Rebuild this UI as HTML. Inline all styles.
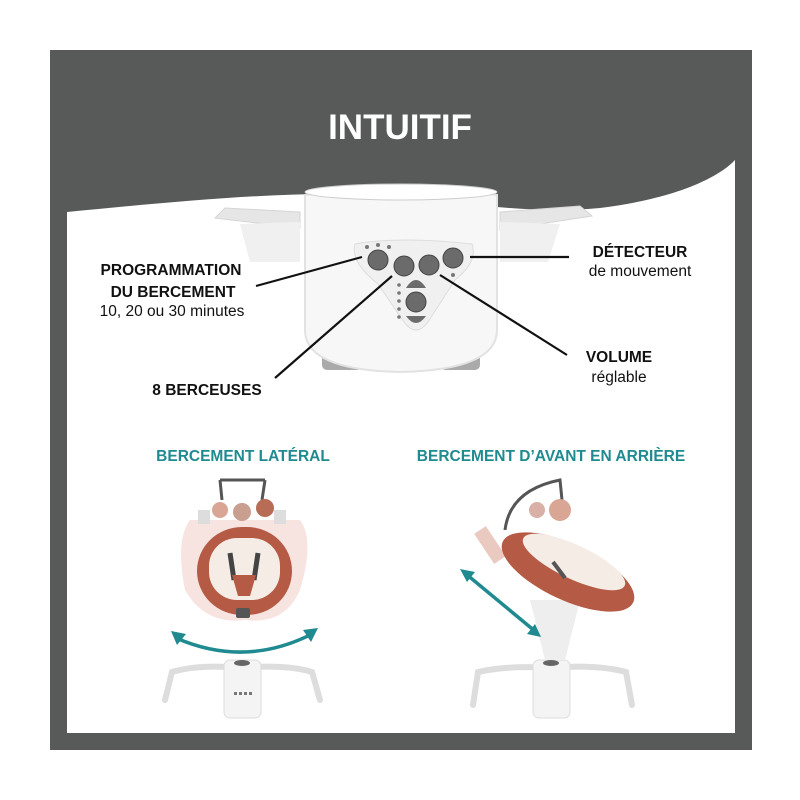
<!DOCTYPE html>
<html><head><meta charset="utf-8"><style>
html,body{margin:0;padding:0;background:#fff;}
svg{display:block}
.b{font-family:"Liberation Sans",sans-serif;font-weight:bold;}
.r{font-family:"Liberation Sans",sans-serif;}
</style></head><body>
<svg width="800" height="800" viewBox="0 0 800 800" xmlns="http://www.w3.org/2000/svg">
<rect x="0" y="0" width="800" height="800" fill="#fff"/>
<rect x="50" y="50" width="702" height="700" fill="#585a59"/>
<rect x="67" y="160" width="668" height="573" fill="#fff"/>
<path d="M67,160 L67,212 C150,204 250,194 330,194 C450,198 520,216 600,208 C680,198 720,176 735,160 Z" fill="#585a59"/>
<text x="400" y="139" text-anchor="middle" class="b" font-size="35" fill="#fff">INTUITIF</text>

<!-- product -->
<g>
<path d="M300,212 L225,208 L215,218 L300,228 Z" fill="#e6e6e6" stroke="#d5d5d5"/>
<path d="M500,212 L580,206 L592,216 L500,230 Z" fill="#e6e6e6" stroke="#d5d5d5"/>
<path d="M300,222 L240,224 L250,262 L300,262 Z" fill="#f0f0f0"/>
<path d="M500,222 L560,224 L548,262 L500,262 Z" fill="#f0f0f0"/>
<rect x="322" y="350" width="40" height="20" rx="5" fill="#aaa"/>
<rect x="440" y="350" width="40" height="20" rx="5" fill="#aaa"/>
<path d="M305,195 Q400,180 497,195 L497,330 Q497,370 400,372 Q305,370 305,330 Z" fill="#f7f7f7" stroke="#e2e2e2" stroke-width="2"/>
<ellipse cx="401" cy="192" rx="96" ry="8" fill="#fff" stroke="#ccc"/>
<path d="M355,244 Q400,236 472,244 Q478,262 455,280 L428,322 Q416,338 404,322 L378,284 Q350,262 355,244 Z" fill="#f0f0f0" stroke="#ddd"/>
<circle cx="367" cy="247" r="2" fill="#777"/><circle cx="378" cy="245" r="2" fill="#777"/><circle cx="389" cy="247" r="2" fill="#777"/>
<circle cx="378" cy="260" r="10" fill="#6b6b6b" stroke="#444"/>
<circle cx="404" cy="266" r="10" fill="#6b6b6b" stroke="#444"/>
<circle cx="429" cy="265" r="10" fill="#6b6b6b" stroke="#444"/>
<circle cx="453" cy="258" r="10" fill="#6b6b6b" stroke="#444"/>
<circle cx="453" cy="275" r="2" fill="#777"/>
<path d="M406,288 Q416,272 426,288 Z" fill="#6b6b6b"/>
<circle cx="416" cy="302" r="10" fill="#6b6b6b" stroke="#444"/>
<path d="M406,316 Q416,330 426,316 Z" fill="#6b6b6b"/>
<g fill="#777"><circle cx="399" cy="285" r="1.8"/><circle cx="399" cy="293" r="1.8"/><circle cx="399" cy="301" r="1.8"/><circle cx="399" cy="309" r="1.8"/><circle cx="399" cy="317" r="1.8"/></g>
</g>
<g stroke="#111" stroke-width="2.2">
<line x1="256" y1="286" x2="362" y2="257"/>
<line x1="275" y1="378" x2="392" y2="276"/>
<line x1="440" y1="275" x2="567" y2="355"/>
<line x1="470" y1="257" x2="569" y2="257"/>
</g>
<g fill="#111">
<text x="171" y="275" text-anchor="middle" class="b" font-size="15.5">PROGRAMMATION</text>
<text x="173" y="297" text-anchor="middle" class="b" font-size="15.5">DU BERCEMENT</text>
<text x="172" y="316" text-anchor="middle" class="r" font-size="15.5">10, 20 ou 30 minutes</text>
<text x="640" y="257" text-anchor="middle" class="b" font-size="15.5">DÉTECTEUR</text>
<text x="640" y="276" text-anchor="middle" class="r" font-size="15.5">de mouvement</text>
<text x="619" y="362" text-anchor="middle" class="b" font-size="15.5">VOLUME</text>
<text x="619" y="382" text-anchor="middle" class="r" font-size="15.5">réglable</text>
<text x="207" y="395" text-anchor="middle" class="b" font-size="15.5">8 BERCEUSES</text>
</g>
<g fill="#1f8a8f" font-size="15.5">
<text x="243" y="461" text-anchor="middle" class="b">BERCEMENT LATÉRAL</text>
<text x="551" y="461" text-anchor="middle" class="b">BERCEMENT D’AVANT EN ARRIÈRE</text>
</g>

<!-- left swing -->
<g>
<path d="M165,700 L172,672 Q200,664 240,668 Q285,664 312,672 L320,700" fill="none" stroke="#ddd" stroke-width="6" stroke-linecap="round"/>
<rect x="224" y="660" width="37" height="58" rx="6" fill="#f4f4f4" stroke="#ddd"/>
<ellipse cx="242" cy="663" rx="8" ry="3" fill="#666"/>
<g fill="#777"><rect x="234" y="692" width="3" height="3"/><rect x="239" y="692" width="3" height="3"/><rect x="244" y="692" width="3" height="3"/><rect x="249" y="692" width="3" height="3"/></g>
<path d="M190,520 Q175,540 185,590 Q205,625 245,620 Q285,625 300,590 Q315,540 300,520" fill="#f4d9d4" opacity="0.7"/>
<rect x="198" y="510" width="12" height="14" fill="#ddd"/><rect x="274" y="510" width="12" height="14" fill="#ddd"/>
<path d="M220,480 L222,500 M265,480 L262,500 M220,480 L265,480" stroke="#555" stroke-width="3" fill="none"/>
<circle cx="220" cy="510" r="8" fill="#d9a595"/><circle cx="242" cy="512" r="9" fill="#c9a090"/><circle cx="265" cy="508" r="9" fill="#b86b55"/>
<rect x="197" y="527" width="95" height="88" rx="45" fill="#b55a45"/>
<rect x="209" y="538" width="71" height="62" rx="28" fill="#f5ece6"/>
<path d="M230,553 L234,580 M258,553 L254,580" stroke="#444" stroke-width="5"/>
<path d="M232,575 L256,575 L250,596 L238,596 Z" fill="#b55a45"/>
<rect x="236" y="608" width="14" height="10" rx="2" fill="#555"/>
<path d="M176,638 Q245,668 312,634" fill="none" stroke="#1f8a8f" stroke-width="3.5"/>
<path d="M171,631 L186,634 L177,645 Z M318,628 L303,630 L311,642 Z" fill="#1f8a8f"/>
</g>

<!-- right swing -->
<g>
<path d="M473,705 L478,672 Q510,665 550,668 Q595,664 626,672 L632,705" fill="none" stroke="#ddd" stroke-width="6" stroke-linecap="round"/>
<rect x="533" y="660" width="37" height="58" rx="6" fill="#f4f4f4" stroke="#ddd"/>
<ellipse cx="551" cy="663" rx="8" ry="3" fill="#666"/>
<path d="M530,600 L545,660 L565,660 L580,600 Z" fill="#eeeeee"/>
<path d="M480,530 L500,560" stroke="#e9c9c0" stroke-width="14"/>
<path d="M505,530 Q510,490 560,480 L562,500" fill="none" stroke="#555" stroke-width="3"/>
<circle cx="537" cy="510" r="8" fill="#d9b0a5"/><circle cx="560" cy="510" r="11" fill="#d9a595"/>
<ellipse cx="568" cy="572" rx="72" ry="28" transform="rotate(25 568 572)" fill="#b55a45"/>
<ellipse cx="574" cy="562" rx="56" ry="17" transform="rotate(25 574 562)" fill="#f5ece6"/>
<path d="M553,562 L565,578" stroke="#555" stroke-width="4"/>
<line x1="466" y1="574" x2="536" y2="632" stroke="#1f8a8f" stroke-width="3.5"/>
<path d="M460,569 L475,572 L467,582 Z M541,637 L527,634 L535,624 Z" fill="#1f8a8f"/>
</g>
</svg>
</body></html>
